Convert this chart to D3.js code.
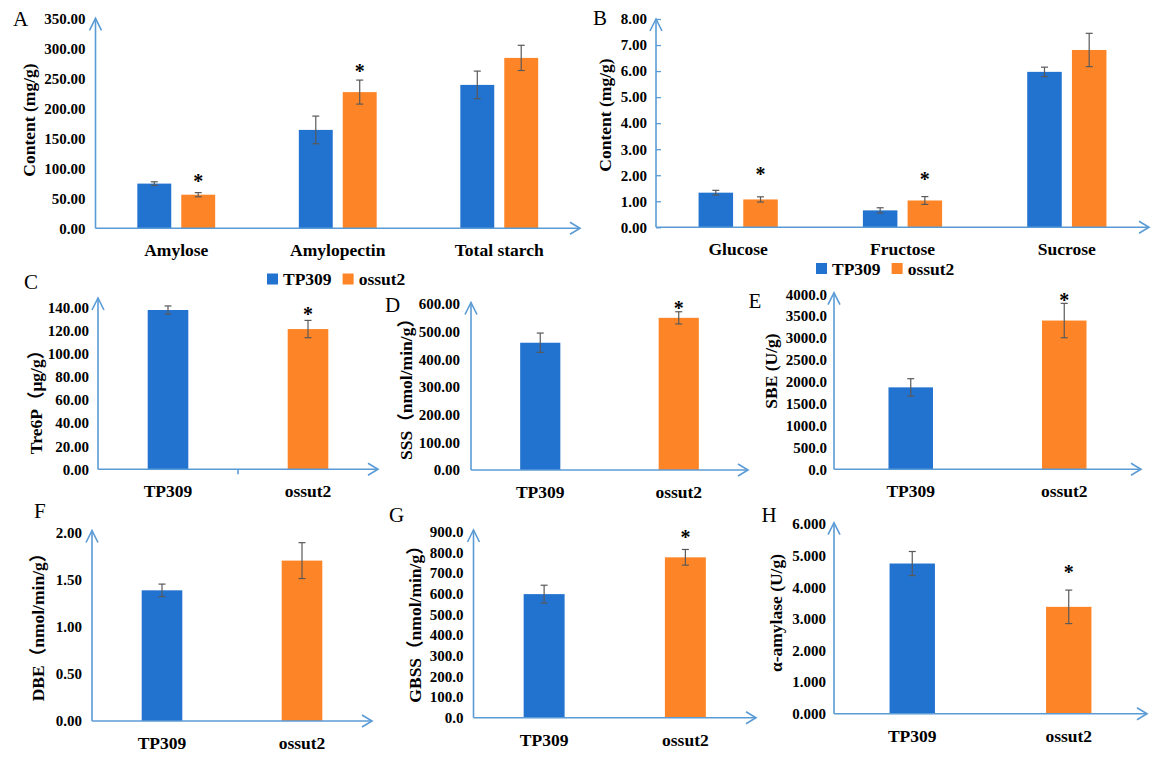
<!DOCTYPE html>
<html><head><meta charset="utf-8">
<script src="https://cdn.jsdelivr.net/npm/d3@7"></script>
<style>body{margin:0;background:#fff}svg{display:block}</style>
</head><body>
<svg id="c" width="1159" height="762"></svg>
<script>
// ---------- data ----------
const seriesNames = ["TP309", "ossut2"];

const catsA = ["Amylose", "Amylopectin", "Total starch"];
const tp309A = [74.5, 164, 239];
const tp309AErr = [3, 23, 23];
const ossut2A = [56, 227, 284];
const ossut2AErr = [3.5, 20, 21];
const starA = [83, 265, null];          // asterisk level (data units) over ossut2
const ticksA = [0, 50, 100, 150, 200, 250, 300, 350];

const catsB = ["Glucose", "Fructose", "Sucrose"];
const tp309B = [1.33, 0.65, 5.97];
const tp309BErr = [0.09, 0.10, 0.18];
const ossut2B = [1.07, 1.03, 6.81];
const ossut2BErr = [0.10, 0.15, 0.64];
const starB = [2.14, 1.94, null];
const ticksB = [0, 1, 2, 3, 4, 5, 6, 7, 8];

const genotypes = ["TP309", "ossut2"];
const tre6p = [138, 121.5], tre6pErr = [3.5, 7.5], tre6pStar = [null, 136.6];
const ticksC = [0, 20, 40, 60, 80, 100, 120, 140];
const sss = [460, 550], sssErr = [35, 22], sssStar = [null, 593];
const ticksD = [0, 100, 200, 300, 400, 500, 600];
const sbe = [1873, 3400], sbeErr = [198, 393], sbeStar = [null, 3909];
const ticksE = [0, 500, 1000, 1500, 2000, 2500, 3000, 3500, 4000];
const dbe = [1.385, 1.70], dbeErr = [0.066, 0.19], dbeStar = [null, null];
const ticksF = [0, 0.5, 1, 1.5, 2];
const gbss = [598, 776], gbssErr = [43, 38], gbssStar = [null, 884];
const ticksG = [0, 100, 200, 300, 400, 500, 600, 700, 800, 900];
const amylase = [4.75, 3.38], amylaseErr = [0.38, 0.53], amylaseStar = [null, 4.55];
const ticksH = [0, 1, 2, 3, 4, 5, 6];

// ---------- style ----------
const FONT = '"Liberation Serif","Times New Roman","Noto Sans CJK SC",serif';
const COLORS = ["#2272CF", "#FD8527"];
const AXIS = "#5B9BD5";
const ERR = "#595959";

const svg = d3.select("#c");

const panels = [
  {letter:"A", grouped:true, cats:catsA, vals:[tp309A, ossut2A], errs:[tp309AErr, ossut2AErr], stars:[null, starA],
   ticks:ticksA, fmt:".2f", ylab:"Content (mg/g)",
   L:{x0:95.5, x1:580, y0:228.3, y1:18.3, axTop:18.3, lx:28.5, ly:120, ltr:[13,26], legend:[267,279], pad:10}},
  {letter:"B", grouped:true, cats:catsB, vals:[tp309B, ossut2B], errs:[tp309BErr, ossut2BErr], stars:[null, starB],
   ticks:ticksB, fmt:".2f", ylab:"Content (mg/g)", innerTicks:true,
   L:{x0:656, x1:1149, y0:227.3, y1:19, axTop:19, lx:605, ly:115, ltr:[593,25], legend:[816,268.5], pad:9}},
  {letter:"C", cats:genotypes, vals:tre6p, errs:tre6pErr, stars:tre6pStar, ticks:ticksC, fmt:".2f",
   ylab:"Tre6P（μg/g）", midTick:true,
   L:{x0:98, x1:378, y0:469.3, y1:307.7, axTop:298, lx:36, ly:398, ltr:[24,289], pad:9}},
  {letter:"D", cats:genotypes, vals:sss, errs:sssErr, stars:sssStar, ticks:ticksD, fmt:".2f",
   ylab:"SSS（nmol/min/g）",
   L:{x0:471, x1:748, y0:470, y1:304, axTop:302.5, lx:405.7, ly:385, ltr:[385,311.7], pad:11}},
  {letter:"E", cats:genotypes, vals:sbe, errs:sbeErr, stars:sbeStar, ticks:ticksE, fmt:".1f",
   ylab:"SBE (U/g)",
   L:{x0:834, x1:1141, y0:469.3, y1:294.3, axTop:292.7, lx:770.7, ly:371, ltr:[748.5,308], pad:7}},
  {letter:"F", cats:genotypes, vals:dbe, errs:dbeErr, stars:dbeStar, ticks:ticksF, fmt:".2f",
   ylab:"DBE（nmol/min/g）",
   L:{x0:92, x1:372, y0:721, y1:532.3, axTop:530.5, lx:38, ly:623, ltr:[34,518], pad:10}},
  {letter:"G", cats:genotypes, vals:gbss, errs:gbssErr, stars:gbssStar, ticks:ticksG, fmt:".1f",
   ylab:"GBSS（nmol/min/g）",
   L:{x0:473.5, x1:756, y0:717.7, y1:531.7, axTop:530, lx:415, ly:620, ltr:[389,522], pad:10}},
  {letter:"H", cats:genotypes, vals:amylase, errs:amylaseErr, stars:amylaseStar, ticks:ticksH, fmt:".3f",
   ylab:"α-amylase (U/g)",
   L:{x0:834, x1:1147, y0:713.7, y1:524, axTop:522.7, lx:776, ly:613, ltr:[761.5,522], pad:8}}
];

function errBar(g, cx, y, v, e) {
  const t = y(v + e), b = y(v - e);
  g.append("line").attr("x1", cx).attr("x2", cx).attr("y1", t).attr("y2", b);
  g.append("line").attr("x1", cx - 3.5).attr("x2", cx + 3.5).attr("y1", t).attr("y2", t);
  g.append("line").attr("x1", cx - 3.5).attr("x2", cx + 3.5).attr("y1", b).attr("y2", b);
}
function star(g, cx, yy) {
  g.append("text").attr("x", cx).attr("y", yy + 9).attr("text-anchor", "middle")
    .attr("font-family", FONT).attr("font-weight", "bold").attr("font-size", 20).text("*");
}

panels.forEach(p => {
  const L = p.L;
  const g = svg.append("g");
  const y = d3.scaleLinear().domain([0, d3.max(p.ticks)]).range([L.y0, L.y1]);
  const x = d3.scaleBand().domain(p.cats).range([L.x0, L.x1]);
  const bw = x.bandwidth();

  const eg = g.append("g").attr("stroke", ERR).attr("stroke-width", 1.2);
  const sg = g.append("g");
  if (p.grouped) {
    const barW = bw * 0.21, gap = bw * 0.062;
    const s = d3.scaleBand().domain(seriesNames).range([-(barW + gap / 2), barW + gap / 2]).paddingInner(gap / (barW + gap));
    seriesNames.forEach((sn, si) => {
      g.insert("g", ":first-child").selectAll("rect").data(p.cats).join("rect")
        .attr("x", c => x(c) + bw / 2 + s(sn))
        .attr("width", s.bandwidth())
        .attr("y", (c, i) => y(p.vals[si][i]))
        .attr("height", (c, i) => L.y0 - y(p.vals[si][i]))
        .attr("fill", COLORS[si]);
      p.cats.forEach((c, i) => {
        const cx = x(c) + bw / 2 + s(sn) + s.bandwidth() / 2;
        errBar(eg, cx, y, p.vals[si][i], p.errs[si][i]);
        if (p.stars[si] && p.stars[si][i] != null) star(sg, cx, y(p.stars[si][i]));
      });
    });
  } else {
    const barW = bw * 0.29;
    g.insert("g", ":first-child").selectAll("rect").data(p.cats).join("rect")
      .attr("x", c => x(c) + bw / 2 - barW / 2)
      .attr("width", barW)
      .attr("y", (c, i) => y(p.vals[i]))
      .attr("height", (c, i) => L.y0 - y(p.vals[i]))
      .attr("fill", (c, i) => COLORS[i]);
    p.cats.forEach((c, i) => {
      const cx = x(c) + bw / 2;
      errBar(eg, cx, y, p.vals[i], p.errs[i]);
      if (p.stars[i] != null) star(sg, cx, y(p.stars[i]));
    });
  }

  const ya = g.append("g").attr("transform", `translate(${L.x0},0)`)
    .call(d3.axisLeft(y).tickValues(p.ticks).tickFormat(d3.format(p.fmt))
      .tickSizeInner(p.innerTicks ? -5 : 0).tickSizeOuter(0).tickPadding(L.pad));
  ya.select(".domain").remove();
  ya.selectAll(".tick line").attr("stroke", AXIS).attr("stroke-width", 1.3);
  ya.selectAll("text").attr("font-family", FONT).attr("font-weight", "bold")
    .attr("font-size", 15).attr("fill", "#000");

  const ax = g.append("g").attr("stroke", AXIS).attr("stroke-width", 1.6).attr("fill", "none");
  ax.append("line").attr("x1", L.x0).attr("x2", L.x0).attr("y1", L.y0).attr("y2", L.axTop);
  ax.append("line").attr("x1", L.x0).attr("x2", L.x1).attr("y1", L.y0).attr("y2", L.y0);
  ax.append("polyline").attr("points", `${L.x0 - 6},${L.axTop + 12} ${L.x0},${L.axTop} ${L.x0 + 6},${L.axTop + 12}`);
  ax.append("polyline").attr("points", `${L.x1 - 10},${L.y0 - 6} ${L.x1},${L.y0} ${L.x1 - 10},${L.y0 + 6}`);
  if (p.midTick) {
    const mx = x(p.cats[1]);
    ax.append("line").attr("x1", mx).attr("x2", mx).attr("y1", L.y0).attr("y2", L.y0 + 5);
  }

  g.append("g").selectAll("text").data(p.cats).join("text")
    .attr("x", c => x(c) + bw / 2).attr("y", L.y0 + 28)
    .attr("text-anchor", "middle").attr("font-family", FONT).attr("font-weight", "bold")
    .attr("font-size", 17.5).text(c => c);

  g.append("text").attr("transform", `translate(${L.lx},${L.ly}) rotate(-90)`)
    .attr("text-anchor", "middle").attr("dominant-baseline", "central")
    .attr("font-family", FONT).attr("font-weight", "bold").attr("font-size", 17.5)
    .text(p.ylab);

  g.append("text").attr("x", L.ltr[0]).attr("y", L.ltr[1])
    .attr("font-family", FONT).attr("font-size", 21).text(p.letter);

  if (L.legend) {
    const [lx, ly] = L.legend;
    const lg = g.append("g");
    let cx = lx;
    seriesNames.forEach((sn, si) => {
      lg.append("rect").attr("x", cx).attr("y", ly - 5.5).attr("width", 11).attr("height", 11).attr("fill", COLORS[si]);
      const t = lg.append("text").attr("x", cx + 16).attr("y", ly + 6)
        .attr("font-family", FONT).attr("font-weight", "bold").attr("font-size", 17.5).text(sn);
      cx = cx + 16 + t.node().getComputedTextLength() + 11;
    });
  }
});
</script>
</body></html>
